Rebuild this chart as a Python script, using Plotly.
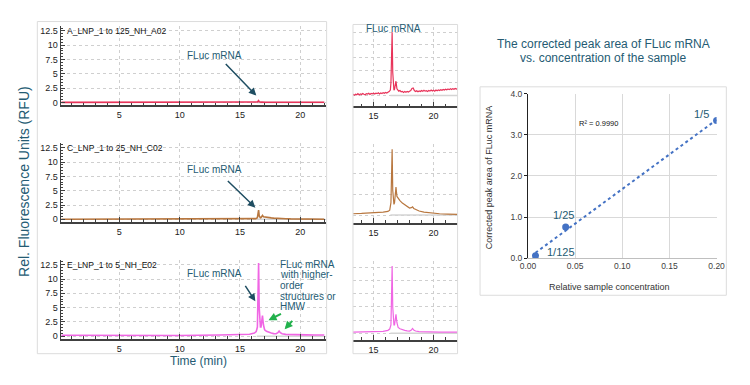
import numpy as np
import plotly.graph_objects as go

W, H = 750, 385
def px(x): return x / W
def py(y): return 1 - y / H

# ---------------- data ----------------
SAMPLE_LABELS = ["A_LNP_1 to 125_NH_A02", "C_LNP_1 to 25_NH_C02", "E_LNP_1 to 5_NH_E02"]
TRACE_COLORS = ["#e8345a", "#b8773f", "#f066e4"]

TIME_A = [0.2, 4.0, 8.0, 12.0,
          13.3, 13.4, 13.5, 13.6, 13.7, 13.8, 13.9, 14.0, 14.1, 14.2,
          14.3, 14.4, 14.5, 14.6, 14.7, 14.8, 14.9, 15.0, 15.1, 15.2,
          15.3, 15.4, 15.5, 15.6, 15.7, 15.8, 15.9, 16.0, 16.1, 16.2,
          16.3, 16.4,
          16.45, 16.5, 16.55, 16.6, 16.65, 16.7, 16.75, 16.8, 16.87, 16.95,
          17.0, 17.1, 17.2, 17.3, 17.4, 17.5, 17.6, 17.7, 17.8, 17.9,
          18.0, 18.1, 18.2, 18.3, 18.4, 18.5, 18.6, 18.7, 18.8, 18.9,
          19.0, 19.1, 19.2, 19.3, 19.4, 19.5, 19.6, 19.7, 19.8, 19.9,
          20.0, 20.1, 20.2, 20.3, 20.4, 20.5, 20.6, 20.7, 20.8, 20.9,
          21.0, 21.1, 21.2, 21.3, 21.4, 21.5, 21.6, 21.7, 21.8, 21.9,
          22.0]
RFU_A = [0.004, 0.005, 0.004, 0.006,
         0.006, 0.002, 0.007, 0.004, 0.009, 0.003, 0.008, 0.005, 0.010, 0.006,
         0.004, 0.009, 0.007, 0.011, 0.005, 0.010, 0.008, 0.012, 0.007, 0.011,
         0.009, 0.013, 0.008, 0.012, 0.010, 0.014, 0.011, 0.015, 0.012, 0.016,
         0.019, 0.026,
         0.060, 0.180, 0.300, 0.110, 0.035, 0.026, 0.030, 0.042, 0.068, 0.032,
         0.026, 0.021, 0.024, 0.018, 0.020, 0.015, 0.019, 0.016, 0.020, 0.017,
         0.021, 0.024, 0.034, 0.036, 0.024, 0.019, 0.023, 0.018, 0.022, 0.019,
         0.024, 0.020, 0.025, 0.021, 0.023, 0.019, 0.024, 0.021, 0.026, 0.022,
         0.025, 0.021, 0.026, 0.023, 0.027, 0.024, 0.028, 0.025, 0.029, 0.026,
         0.030, 0.027, 0.031, 0.028, 0.032, 0.029, 0.033, 0.030, 0.034, 0.031,
         0.033]

TIME_CE = [0.2, 5.0, 10.0, 13.3, 14.0, 15.0, 15.8, 16.2, 16.35, 16.45, 16.5, 16.55,
           16.6, 16.65, 16.7, 16.75, 16.8, 16.87, 16.95, 17.05, 17.2, 17.4, 17.6,
           17.8, 18.0, 18.15, 18.25, 18.35, 18.5, 18.8, 19.2, 19.8, 20.5, 21.2, 22.0]
RFU_C = [0.02, 0.02, 0.03, 0.033, 0.04, 0.05, 0.07, 0.09, 0.12, 0.30, 0.90, 1.59,
         0.60, 0.30, 0.26, 0.30, 0.45, 0.68, 0.45, 0.40, 0.35, 0.29, 0.25,
         0.21, 0.17, 0.18, 0.20, 0.16, 0.14, 0.10, 0.07, 0.045, 0.033, 0.025, 0.02]
RFU_E = [0.15, 0.10, 0.12, 0.20, 0.22, 0.25, 0.35, 0.55, 0.80, 1.60, 6.50, 12.8,
         5.00, 2.00, 1.60, 1.60, 2.20, 3.60, 2.00, 1.10, 0.85, 0.65, 0.55,
         0.45, 0.42, 0.60, 0.90, 0.60, 0.42, 0.32, 0.27, 0.24, 0.22, 0.20, 0.20]

INTEGRATION_WINDOW = [16.4, 22.0]
INTEGRATION_BASELINE = [0.0, 0.0]

CONC_LABELS = ["1/125", "1/25", "1/5"]
REL_CONC = [0.008, 0.04, 0.2]
PEAK_AREA = [0.06, 0.76, 3.35]
R2_TEXT = "R² = 0.9990"

SERIES = [(TIME_A, RFU_A), (TIME_CE, RFU_C), (TIME_CE, RFU_E)]

TEAL = "#245b73"
FONT = "Liberation Sans, Arial, sans-serif"
GRID = "#cfcfcf"
AXC = "#404040"

fig = go.Figure()
layout = {}

left_tops = [22, 142, 262]
left_bots = [103, 223, 343]
ins_tops = [23, 143, 263]
ins_bots = [104, 224, 344]
ins_ranges = [[-0.0507, 0.3226], [-0.195, 1.71], [-1.3, 13.7]]
ins_dtick = [0.06, 0.5, 2.5]

def ax_name(k, axis):
    return f"{axis}axis" if k == 1 else f"{axis}axis{k}"

def ref(k, axis):
    return axis if k == 1 else f"{axis}{k}"

for i in range(3):
    t, v = SERIES[i]
    # ---- left full chromatogram ----
    k = i + 1
    layout[ax_name(k, "x")] = dict(
        domain=[px(54), px(325)], range=[0.14, 22.11], anchor=ref(k, "y"),
        showline=True, linecolor=AXC, linewidth=1.5, ticks="inside", ticklen=5,
        tickcolor=AXC, tick0=0, dtick=5, tickfont=dict(size=9, color="#222"),
        showgrid=True, gridcolor=GRID, griddash="dot", zeroline=False,
        minor=dict(dtick=1, ticks="inside", ticklen=3, tickcolor=AXC, showgrid=False))
    layout[ax_name(k, "y")] = dict(
        domain=[py(left_bots[i]), py(left_tops[i])], range=[-0.51, 13.29], anchor=ref(k, "x"),
        showline=True, linecolor=AXC, linewidth=1.2, ticks="inside", ticklen=4,
        tickcolor=AXC, tick0=0, dtick=2.5, tickfont=dict(size=9, color="#222"),
        showgrid=True, gridcolor=GRID, griddash="dot", zeroline=False,
        minor=dict(dtick=0.5, ticks="inside", ticklen=2, tickcolor=AXC, showgrid=False))
    fig.add_trace(go.Scatter(x=INTEGRATION_WINDOW, y=INTEGRATION_BASELINE, mode="lines",
                             line=dict(color="#d4d4d4", width=1.5), hoverinfo="skip",
                             xaxis=ref(k, "x"), yaxis=ref(k, "y"), showlegend=False))
    fig.add_trace(go.Scatter(x=t, y=v, mode="lines", line=dict(color=TRACE_COLORS[i], width=1.6),
                             xaxis=ref(k, "x"), yaxis=ref(k, "y"), showlegend=False))
    # ---- zoomed inset ----
    k2 = i + 4
    layout[ax_name(k2, "x")] = dict(
        domain=[px(353), px(460)], range=[13.29, 22.0], anchor=ref(k2, "y"),
        showline=True, linecolor=AXC, linewidth=1.5, ticks="inside", ticklen=5,
        tickcolor=AXC, tick0=0, dtick=5, tickfont=dict(size=9, color="#222"),
        showgrid=True, gridcolor=GRID, griddash="dot", zeroline=False,
        minor=dict(dtick=1, ticks="inside", ticklen=3, tickcolor=AXC, showgrid=False))
    layout[ax_name(k2, "y")] = dict(
        domain=[py(ins_bots[i]), py(ins_tops[i])], range=ins_ranges[i], anchor=ref(k2, "x"),
        showline=False, ticks="", showticklabels=False, tick0=0, dtick=ins_dtick[i],
        showgrid=True, gridcolor=GRID, griddash="dot", zeroline=False)
    fig.add_trace(go.Scatter(x=INTEGRATION_WINDOW, y=INTEGRATION_BASELINE, mode="lines",
                             line=dict(color="#d4d4d4", width=1.5), hoverinfo="skip",
                             xaxis=ref(k2, "x"), yaxis=ref(k2, "y"), showlegend=False))
    fig.add_trace(go.Scatter(x=t, y=v, mode="lines", line=dict(color=TRACE_COLORS[i], width=1.2),
                             xaxis=ref(k2, "x"), yaxis=ref(k2, "y"), showlegend=False))

# ---- scatter: peak area vs concentration ----
layout["xaxis7"] = dict(domain=[px(532), px(725)], range=[0, 0.2], anchor="y7",
                        dtick=0.05, tickformat=".2f", showgrid=True, gridcolor="#d9d9d9",
                        showline=True, linecolor="#bfbfbf", ticks="", zeroline=False,
                        tickfont=dict(size=8.5, color="#404040"))
layout["yaxis7"] = dict(domain=[py(260), py(91)], range=[0, 4], anchor="x7",
                        dtick=1, tickformat=".1f", showgrid=True, gridcolor="#d9d9d9",
                        showline=True, linecolor="#222", linewidth=1, ticks="outside",
                        ticklen=3, tickcolor="#222", zeroline=False,
                        tickfont=dict(size=8.5, color="#404040"))

slope, intercept = np.polyfit(REL_CONC, PEAK_AREA, 1)
fit_x = [min(REL_CONC), max(REL_CONC)]
fit_y = [slope * xx + intercept for xx in fit_x]
fig.add_trace(go.Scatter(x=fit_x, y=fit_y, mode="lines",
                         line=dict(color="#4472c4", width=2, dash="dot"),
                         xaxis="x7", yaxis="y7", showlegend=False))
fig.add_trace(go.Scatter(x=REL_CONC, y=PEAK_AREA, mode="markers",
                         marker=dict(color="#4472c4", size=7),
                         xaxis="x7", yaxis="y7", showlegend=False))

ann = []
for i in range(3):
    ann.append(dict(text=SAMPLE_LABELS[i], x=px(58), y=py(27 + 120 * i), xref="paper", yref="paper",
                    xanchor="left", yanchor="middle", showarrow=False,
                    font=dict(size=8.5, color="#111")))
for yy in [52, 169, 276]:
    ann.append(dict(text="FLuc mRNA", x=px(211), y=py(yy), xref="paper", yref="paper",
                    xanchor="center", yanchor="middle", showarrow=False,
                    font=dict(size=10, color=TEAL)))
arrows = [("x", "y", 16.36, 1.2, -32, -33), ("x2", "y2", 16.28, 2.04, -29, -28),
          ("x3", "y3", 16.28, 6.1, -11, -17)]
for xr, yr, xx, yy, axp, ayp in arrows:
    ann.append(dict(text="", x=xx, y=yy, xref=xr, yref=yr, ax=axp, ay=ayp, showarrow=True,
                    arrowhead=2, arrowsize=1, arrowwidth=1.5, arrowcolor="#1f4e62"))
for xx, yy, axp, ayp in [(17.37, 2.8, 14, -7), (18.71, 1.2, 9, -10)]:
    ann.append(dict(text="", x=xx, y=yy, xref="x3", yref="y3", ax=axp, ay=ayp, showarrow=True,
                    arrowhead=2, arrowsize=0.8, arrowwidth=2, arrowcolor="#22b14c"))
for j, line in enumerate(["FLuc mRNA", "with higher-", "order", "structures or", "HMW"]):
    ann.append(dict(text=line, x=px(276), y=py(266 + 11 * j), xref="paper", yref="paper",
                    xanchor="left", yanchor="middle", showarrow=False,
                    font=dict(size=10, color=TEAL)))
ann.append(dict(text="FLuc mRNA", x=px(394), y=py(24), xref="paper", yref="paper",
                xanchor="center", yanchor="middle", showarrow=False, font=dict(size=10, color=TEAL)))
ann.append(dict(text="Rel. Fluorescence Units (RFU)", x=px(17), y=py(181), xref="paper", yref="paper",
                textangle=-90, xanchor="center", yanchor="middle", showarrow=False,
                font=dict(size=14, color=TEAL)))
ann.append(dict(text="Time (min)", x=px(195), y=py(365), xref="paper", yref="paper",
                xanchor="center", yanchor="middle", showarrow=False, font=dict(size=12, color=TEAL)))
ann.append(dict(text="The corrected peak area of FLuc mRNA", x=px(609), y=py(40.5), xref="paper",
                yref="paper", xanchor="center", yanchor="middle", showarrow=False,
                font=dict(size=12, color=TEAL)))
ann.append(dict(text="vs. concentration of the sample", x=px(609), y=py(54), xref="paper",
                yref="paper", xanchor="center", yanchor="middle", showarrow=False,
                font=dict(size=12, color=TEAL)))
ann.append(dict(text="Corrected peak area of FLuc mRNA", x=px(493), y=py(177), xref="paper",
                yref="paper", textangle=-90, xanchor="center", yanchor="middle", showarrow=False,
                font=dict(size=9, color="#333")))
ann.append(dict(text="Relative sample concentration", x=px(615), y=py(290), xref="paper",
                yref="paper", xanchor="center", yanchor="middle", showarrow=False,
                font=dict(size=9, color="#333")))
ann.append(dict(text=R2_TEXT, x=0.0746, y=3.27, xref="x7", yref="y7", showarrow=False,
                xanchor="center", yanchor="middle", font=dict(size=7.5, color="#111")))
for lab, xx, yy in zip(CONC_LABELS, [0.035, 0.0373, 0.184], [0.14, 1.04, 3.5]):
    ann.append(dict(text=lab, x=xx, y=yy, xref="x7", yref="y7", showarrow=False,
                    xanchor="center", yanchor="middle", font=dict(size=11, color=TEAL)))

shapes = [
    dict(type="rect", xref="paper", yref="paper", x0=px(30), x1=px(326), y0=py(358), y1=py(17),
         line=dict(color="#dcdcdc", width=1)),
    dict(type="rect", xref="paper", yref="paper", x0=px(353), x1=px(460), y0=py(358), y1=py(20),
         line=dict(color="#dcdcdc", width=1)),
    dict(type="rect", xref="paper", yref="paper", x0=px(483), x1=px(735), y0=py(298), y1=py(84),
         line=dict(color="#dcdcdc", width=1)),
]

fig.update_layout(width=W, height=H, margin=dict(l=0, r=0, t=0, b=0),
                  paper_bgcolor="white", plot_bgcolor="white",
                  font=dict(family=FONT), annotations=ann, shapes=shapes, **layout)

fig.write_html("out.html", config={"displayModeBar": False},
               post_script="document.body.style.margin='0px';document.body.style.overflow='hidden';")
